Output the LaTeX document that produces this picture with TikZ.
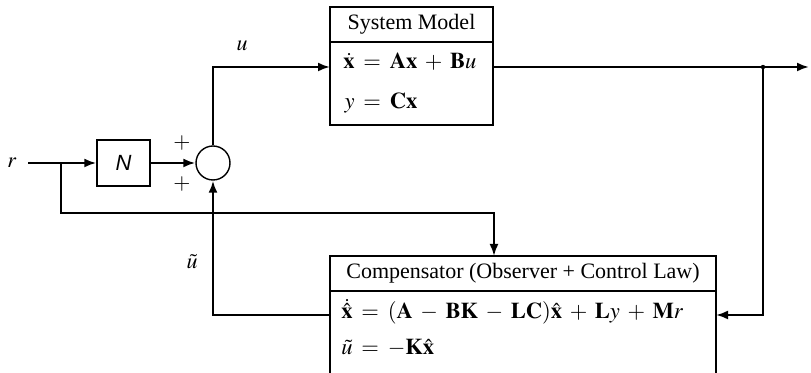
\documentclass[tikz,border=0pt]{standalone}
\usepackage{amsmath}
\usepackage{mathptmx}
\usepackage{fontspec}
\setmainfont{Liberation Serif}
\newfontfamily\hvfont{Liberation Sans}
\usetikzlibrary{arrows.meta}
\newcommand{\eqspacing}{\medmuskip=6mu\relax\thickmuskip=7mu\relax}
\begin{document}
\begin{tikzpicture}[x=0.5pt,y=-0.5pt, font=\fontsize{11}{13}\selectfont,
 sig/.style={line width=1.1pt},
 arr/.style={sig,-{Latex[length=6pt,width=4.5pt]}},
 blk/.style={draw, line width=0.7pt, inner sep=0pt},
 lbl/.style={inner sep=0pt},
 eqn/.style={inner sep=0pt, anchor=west, font=\fontsize{11.3}{14}\selectfont},
 ]
\useasboundingbox (0,0) rectangle (811,373);
\clip (0,0) rectangle (811,373);
% blocks
\node[blk, minimum width=26.5pt, minimum height=23pt] (N) at (123.5,163) {\hvfont\itshape N};
\node[circle, draw, line width=0.7pt, minimum size=17pt, inner sep=0pt] (sum) at (213,163) {};
\node[blk, minimum width=81.5pt, minimum height=17.5pt] (systitle) at (411.5,24.5) {System Model};
\node[blk, minimum width=81.5pt, minimum height=41.5pt] (sysbody) at (411.5,83.5) {};
\node[blk, minimum width=193pt, minimum height=17.5pt] (comptitle) at (523,273.5) {Compensator (Observer + Control Law)};
\node[blk, minimum width=193pt, minimum height=64.5pt] (compbody) at (523,355.5) {};
% equations
\node[eqn] (syseq) at (343,82.5) {$\eqspacing\begin{aligned}\eqspacing\dot{\mathbf{x}} &= \mathbf{A}\mathbf{x}+\mathbf{B}u\\[3pt] y &= \mathbf{C}\mathbf{x}\end{aligned}$};
\node[eqn] (compeq) at (341,331) {$\eqspacing\begin{aligned}\eqspacing\dot{\hat{\mathbf{x}}} &= (\mathbf{A}-\mathbf{B}\mathbf{K}-\mathbf{L}\mathbf{C})\hat{\mathbf{x}}+\mathbf{L}y+\mathbf{M}r\\[1pt] \tilde{u} &= -\mathbf{K}\hat{\mathbf{x}}\end{aligned}$};
% labels
\node[lbl] (r) at (12,163) {$r$};
\node[lbl] (plus1) at (182,143) {$+$};
\node[lbl] (plus2) at (182,184) {$+$};
\node[lbl] (ulbl) at (242,46) {$u$};
\node[lbl] (utlbl) at (192,262) {$\tilde{u}$};
% coordinates
\coordinate (rin) at (28,163);
\coordinate (rb) at (61,163);
\coordinate (rlow) at (61,213);
\coordinate (comptop) at (494,256);
\coordinate (sysin) at (330,67);
\coordinate (sysout) at (493,67);
\coordinate (ybr) at (763,67);
\coordinate (yout) at (809,67);
\coordinate (compin) at (716,315);
\coordinate (compout) at (330,315);
% connectors
\draw[arr] (rin) -- (N.west);
\draw[arr] (N.east) -- (sum.west);
\draw[arr] (sum.north) |- (sysin);
\draw[arr] (sysout) -- (yout);
\fill (ybr) circle (2.2);
\draw[arr] (ybr) |- (compin);
\draw[arr] (rb) -- (rlow) -| (comptop);
\draw[arr] (compout) -| (sum.south);
\end{tikzpicture}
\end{document}
